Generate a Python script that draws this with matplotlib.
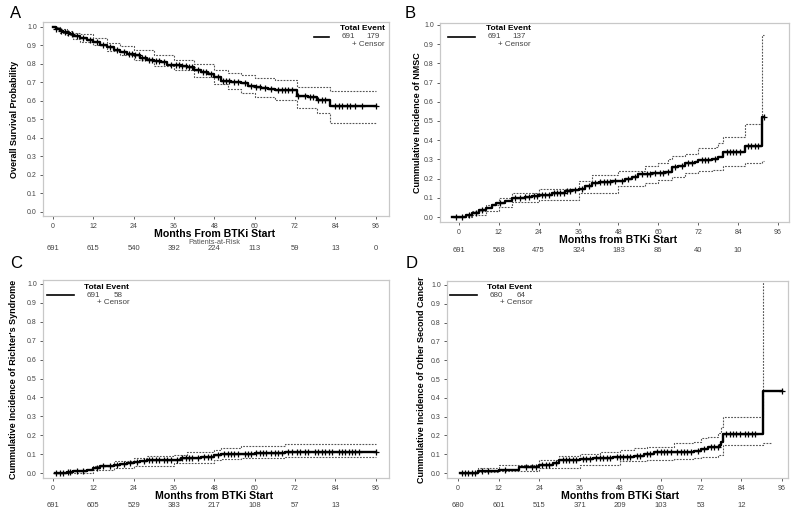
import numpy as np
import matplotlib
matplotlib.use('Agg')
import matplotlib.pyplot as plt
import matplotlib.transforms as mtrans

plt.rcParams['font.family'] = ['Liberation Sans', 'DejaVu Sans']

W, H = 800, 511
TICKS = [0, 12, 24, 36, 48, 60, 72, 84, 96]

# ---- A: overall survival
os_t = [0, 1, 2, 3, 4, 5, 6, 8, 10, 12, 14, 16, 18, 20, 22, 24, 26, 28, 30, 32, 34, 36,
        38, 40, 42, 44, 46, 48, 50, 53, 56, 58, 60, 62, 64, 66, 72.5, 74, 76, 78.5, 82.3]
os_s = [1.0, 0.99, 0.98, 0.975, 0.965, 0.96, 0.95, 0.94, 0.93, 0.92, 0.905, 0.89, 0.875,
        0.865, 0.855, 0.847, 0.835, 0.822, 0.815, 0.81, 0.797, 0.793, 0.79, 0.785, 0.77,
        0.758, 0.745, 0.73, 0.71, 0.705, 0.698, 0.68, 0.675, 0.67, 0.665, 0.657, 0.627,
        0.625, 0.62, 0.605, 0.575]
os_up_t = [0, 2, 4, 6, 8, 12, 16, 20, 24, 30, 36, 42, 48, 52, 56, 60, 66, 72.5, 82.3]
os_up = [1.0, 0.99, 0.98, 0.97, 0.96, 0.942, 0.915, 0.895, 0.878, 0.85, 0.824, 0.8, 0.77,
         0.752, 0.74, 0.722, 0.714, 0.677, 0.656]
os_lo_t = [0, 2, 4, 6, 8, 12, 16, 20, 24, 30, 36, 42, 48, 52, 56, 60, 66, 72.5, 78.5, 82.3]
os_lo = [1.0, 0.97, 0.955, 0.935, 0.92, 0.9, 0.87, 0.85, 0.82, 0.79, 0.765, 0.73, 0.69,
         0.665, 0.645, 0.62, 0.605, 0.56, 0.537, 0.483]
os_cens = [1, 2.5, 3.5, 4.5, 5.5, 7, 9, 11, 13, 15, 17, 19, 21, 22.5, 23.5, 24.5, 25.5, 26.5,
           27.5, 28.5, 29.5, 30.5, 31.5, 33, 35, 36.5, 37.5, 38.5, 39.5, 40.5, 41.5, 43,
           44.5, 45.5, 47, 49, 50.5, 51.5, 52.5, 54, 55, 57, 59, 60.5, 61.5, 63, 65, 67, 68,
           69, 70, 71, 73, 75, 76.5, 77.5, 79, 80, 81, 84, 85, 86, 87.5, 88.5, 90, 92, 96]
os_end = 96

# ---- B: NMSC
nm_t = [-2, 0, 2, 4, 6, 8, 10, 11, 14, 16, 20, 22, 24, 28, 32, 34, 36, 38, 40, 42, 46, 48,
        50, 52, 54, 58, 62, 64, 66, 68, 71, 72, 76, 78, 79.5, 86, 91.3]
nm_s = [0.0, 0.0, 0.008, 0.02, 0.035, 0.045, 0.06, 0.073, 0.085, 0.1, 0.105, 0.11, 0.117,
        0.125, 0.135, 0.143, 0.148, 0.16, 0.175, 0.18, 0.185, 0.19, 0.2, 0.21, 0.223, 0.23,
        0.235, 0.26, 0.268, 0.28, 0.288, 0.296, 0.3, 0.314, 0.337, 0.372, 0.52]
nm_up_t = [-2, 0, 4, 8, 12, 16, 24, 36, 40, 48, 56, 60, 63, 64, 68, 72, 77, 78, 79.5, 86, 91.3]
nm_up = [0.005, 0.005, 0.03, 0.06, 0.1, 0.125, 0.148, 0.19, 0.218, 0.24, 0.267, 0.28, 0.3,
         0.315, 0.33, 0.357, 0.366, 0.387, 0.419, 0.485, 0.95]
nm_lo_t = [-2, 0, 4, 8, 12, 16, 24, 36, 48, 56, 60, 64, 68, 72, 76, 79.5, 86, 91.3]
nm_lo = [0.0, 0.0, 0.012, 0.032, 0.052, 0.078, 0.09, 0.125, 0.162, 0.178, 0.192, 0.21,
         0.227, 0.24, 0.245, 0.265, 0.283, 0.293]
nm_cens = [-1, 1, 3, 5, 7, 12.5, 17, 18.5, 20, 21, 22.5, 23.5, 25, 26, 27, 28.5, 29.5, 30.5,
           31.5, 32.5, 33.5, 35, 37, 39, 41, 42.5, 43.5, 44.5, 45.5, 47, 49, 51, 53, 55, 56.5,
           57.5, 59, 60.5, 61.5, 63, 65, 67, 69, 70, 73, 74, 75, 77, 80.5, 81.5, 82.5, 83.5,
           84.5, 87, 88, 89, 90, 91.7]
nm_end = 91.7

# ---- C: Richter's syndrome
rs_t = [0.5, 4, 6, 8, 10, 12, 14, 16, 18, 20, 22, 24, 26, 28, 32, 36, 38, 42, 44, 48, 50,
        56, 60, 69]
rs_s = [0.0, 0.005, 0.01, 0.012, 0.018, 0.026, 0.035, 0.039, 0.045, 0.048, 0.052, 0.058,
        0.062, 0.067, 0.068, 0.07, 0.079, 0.082, 0.086, 0.093, 0.1, 0.102, 0.105, 0.114]
rs_up_t = [0.5, 6, 12, 18, 24, 28, 36, 40, 48, 50, 56, 69]
rs_up = [0.003, 0.015, 0.039, 0.062, 0.079, 0.092, 0.097, 0.109, 0.123, 0.132, 0.141, 0.155]
rs_lo_t = [0.5, 6, 12, 18, 24, 36, 48, 50, 56, 69]
rs_lo = [0.0, 0.002, 0.014, 0.026, 0.039, 0.053, 0.067, 0.074, 0.079, 0.083]
rs_cens = [1, 2, 3, 4.5, 5, 7, 9, 13, 15, 17, 19, 21, 23, 25, 27, 28.5, 29.5, 30.5, 31.5, 33,
           34, 35, 37, 38.5, 39.5, 40.5, 41.5, 43, 45, 46, 47, 49, 51, 52, 53, 54, 55, 57, 58,
           59, 60.5, 61.5, 62.5, 63.5, 65, 66, 67, 68, 70, 71, 72.5, 73.5, 75, 76, 78, 79,
           80, 81, 82, 83, 85, 86, 87, 88, 89, 90, 91, 96]
rs_end = 96

# ---- D: other second cancer
oc_t = [0.5, 6, 12, 18, 24, 28, 30, 36, 40, 46, 52, 55, 58, 64, 70, 72, 74, 77.5, 78, 78.5,
        90.3]
oc_s = [0.0, 0.01, 0.018, 0.03, 0.044, 0.053, 0.07, 0.074, 0.08, 0.088, 0.092, 0.102, 0.11,
        0.114, 0.118, 0.128, 0.137, 0.15, 0.167, 0.206, 0.437]
oc_up_t = [0.5, 6, 12, 24, 30, 36, 42, 48, 52, 56, 64, 70, 72, 74, 77, 78, 78.5, 90.3]
oc_up = [0.003, 0.025, 0.044, 0.07, 0.092, 0.102, 0.114, 0.123, 0.132, 0.141, 0.158, 0.167,
         0.185, 0.194, 0.211, 0.246, 0.3, 1.2]
oc_lo_t = [0.5, 6, 12, 24, 36, 48, 56, 64, 70, 72, 77, 78.5, 90.3]
oc_lo = [0.0, 0.004, 0.009, 0.026, 0.044, 0.062, 0.07, 0.074, 0.079, 0.088, 0.097, 0.15, 0.158]
oc_cens = [1, 2, 3, 4, 5, 7, 9, 14, 20, 22, 23, 25, 26, 27, 29, 31, 32, 33, 34, 35, 37, 38,
           39, 41, 42, 43, 44, 45, 47, 48, 49, 50, 51, 53, 54, 56, 57, 59, 60, 61, 62, 63, 65,
           66, 67, 68, 69, 71, 73, 75, 76, 77, 79.5, 80.5, 81.5, 82.5, 83.5, 85, 86, 87, 88,
           96]
oc_end = 96
oc_lo_end = 92.7

# ---- at-risk rows and legends
risk_a = [691, 615, 540, 392, 224, 113, 59, 13, 0]
risk_b = [691, 568, 475, 324, 183, 86, 40, 10]
risk_c = [691, 605, 529, 383, 217, 108, 57, 13]
risk_d = [680, 601, 515, 371, 209, 103, 53, 12]
totals = {'A': (691, 179), 'B': (691, 137), 'C': (691, 58), 'D': (680, 64)}

panels = [
    dict(letter='A', box=(43, 22, 389, 216), xlim=(-3, 100), ylim=(-0.022, 1.027),
         ylabel='Overall Survival Probability', xlabel='Months From BTKi Start',
         xly=234, rky=248, leg=(340, 29, 'right'), letter_xy=(10, 14), ylx=15,
         t=os_t, s=os_s, ut=os_up_t, u=os_up, lt=os_lo_t, l=os_lo, c=os_cens, end=os_end,
         risk=risk_a),
    dict(letter='B', box=(440, 23, 789, 222), xlim=(-5.7, 99.3), ylim=(-0.026, 1.010),
         ylabel='Cummulative Incidence of NMSC', xlabel='Months from BTKi Start',
         xly=240, rky=250, leg=(448, 29, 'left'), letter_xy=(405, 14), ylx=418,
         t=nm_t, s=nm_s, ut=nm_up_t, u=nm_up, lt=nm_lo_t, l=nm_lo, c=nm_cens, end=nm_end,
         risk=risk_b),
    dict(letter='C', box=(43, 280, 389, 478), xlim=(-3, 100), ylim=(-0.026, 1.021),
         ylabel="Cummulative Incidence of Richter's Syndrome", xlabel='Months from BTKi Start',
         xly=496, rky=505, leg=(47, 287, 'left'), letter_xy=(10, 264), ylx=14,
         t=rs_t, s=rs_s, ut=rs_up_t, u=rs_up, lt=rs_lo_t, l=rs_lo, c=rs_cens, end=rs_end,
         risk=risk_c),
    dict(letter='D', box=(447, 281, 788, 478), xlim=(-3.3, 97.8), ylim=(-0.026, 1.021),
         ylabel='Cummulative Incidence of Other Second Cancer', xlabel='Months from BTKi Start',
         xly=496, rky=505, leg=(450, 287, 'left'), letter_xy=(406, 264), ylx=421,
         t=oc_t, s=oc_s, ut=oc_up_t, u=oc_up, lt=oc_lo_t, l=oc_lo, c=oc_cens, end=oc_end,
         risk=risk_d),
]


def step_at(t, s, x):
    i = np.searchsorted(t, x, side='right') - 1
    return np.asarray(s)[np.clip(i, 0, len(s) - 1)]


def step_xy(t, s, end):
    return list(t) + [end], list(s) + [s[-1]]


fig = plt.figure(figsize=(W / 100, H / 100), dpi=100)
fig.patch.set_facecolor('white')

for p in panels:
    x0, y0, x1, y1 = p['box']
    ax = fig.add_axes([x0 / W, 1 - y1 / H, (x1 - x0) / W, (y1 - y0) / H])
    for sp in ax.spines.values():
        sp.set_color('#c8c8c8')
        sp.set_linewidth(0.9)

    gray = '#555555'
    dash = (0, (1.6, 1.2))
    if p['letter'] == 'D':
        ue = 90.3
        le = oc_lo_end
    else:
        ue = p['end'] if p['letter'] != 'B' else 91.7
        le = ue
    xs, ys = step_xy(p['ut'], p['u'], ue)
    ax.step(xs, ys, where='post', color=gray, lw=0.8, ls=dash)
    xs, ys = step_xy(p['lt'], p['l'], le)
    ax.step(xs, ys, where='post', color=gray, lw=0.8, ls=dash)
    xs, ys = step_xy(p['t'], p['s'], p['end'])
    ax.step(xs, ys, where='post', color='black', lw=1.7)
    cy = step_at(p['t'], p['s'], np.array(p['c']))
    ax.plot(p['c'], cy, ls='none', marker='+', color='black', ms=4.5, mew=0.9)

    ax.set_xlim(*p['xlim'])
    ax.set_ylim(*p['ylim'])
    ax.set_xticks(TICKS)
    ax.set_yticks(np.arange(0, 1.01, 0.1))
    ax.set_yticklabels(['%.1f' % v for v in np.arange(0, 1.01, 0.1)])
    ax.tick_params(labelsize=5, colors='#444444', length=2.5, width=0.6, pad=2)
    ax.tick_params(axis='x', pad=2.5)

    # labels
    fig.text(p['letter_xy'][0] / W, 1 - p['letter_xy'][1] / H, p['letter'], fontsize=12,
             va='center', ha='left')
    fig.text(p['ylx'] / W, 1 - (y0 + y1) / 2 / H, p['ylabel'], rotation=90, fontsize=6.5,
             fontweight='bold', va='center', ha='center',
             family=['Liberation Sans Narrow', 'Liberation Sans', 'DejaVu Sans'])
    xc = ax.transData.transform((48, 0))[0] / fig.dpi / fig.get_figwidth()
    fig.text(xc, 1 - p['xly'] / H, p['xlabel'], fontsize=7.6, fontweight='bold',
             ha='center', va='center')
    tr = mtrans.blended_transform_factory(ax.transData, fig.transFigure)
    for xv, n in zip(TICKS, p['risk']):
        ax.text(xv, 1 - p['rky'] / H, str(n), transform=tr, fontsize=5.5, color='#444444',
                ha='center', va='center', clip_on=False)
    if p['letter'] == 'A':
        fig.text(xc, 1 - 242 / H, 'Patients-at-Risk', fontsize=5.3, color='#555555',
                 ha='center', va='center')

    # legend block
    lx, ly, side = p['leg']
    n_tot, n_ev = totals[p['letter']]
    if side == 'right':
        line_x = (314, 329)
        tx = 362
    else:
        line_x = (lx, lx + 27)
        tx = lx + 60
    fig.add_artist(plt.Line2D([line_x[0] / W, line_x[1] / W], [1 - (ly + 8) / H] * 2,
                              color='black', lw=1.2, transform=fig.transFigure))
    fig.text(tx / W, 1 - ly / H, 'Total Event', fontsize=6, fontweight='bold',
             ha='center', va='center')
    fig.text((tx - 7) / W, 1 - (ly + 8) / H, str(n_tot), fontsize=5.8, color='#444444',
             ha='right', va='center')
    fig.text((tx + 11) / W, 1 - (ly + 8) / H, str(n_ev), fontsize=5.8, color='#444444',
             ha='center', va='center')
    fig.text((tx + 23) / W, 1 - (ly + 15) / H, '+ Censor', fontsize=5.8, color='#444444',
             ha='right', va='center')

fig.savefig('out.png', dpi=100)
